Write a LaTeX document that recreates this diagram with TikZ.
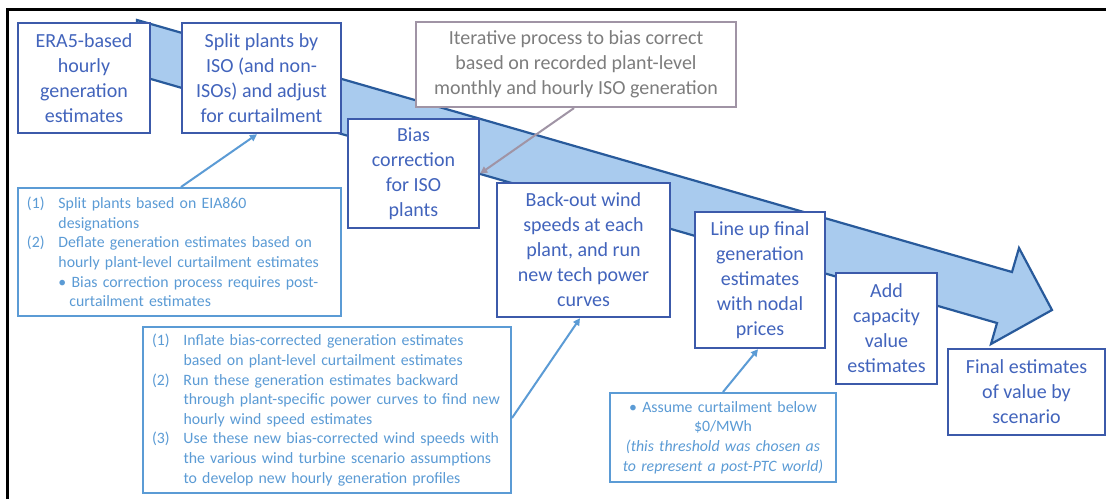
\documentclass[tikz,border=0pt]{standalone}
\usepackage{fontspec}
\setmainfont{Carlito}
\usetikzlibrary{arrows.meta}
\definecolor{mainborder}{RGB}{60,90,170}
\definecolor{maintext}{RGB}{66,100,188}
\definecolor{arrowfill}{RGB}{169,203,238}
\definecolor{arrowline}{RGB}{40,90,155}
\definecolor{callout}{RGB}{91,155,213}
\definecolor{grayline}{RGB}{160,148,165}
\definecolor{graytext}{RGB}{125,125,125}
\newcommand\calitem[1]{\makebox[31.5pt][l]{#1}}
\newcommand\calind{\hspace*{31.5pt}}
\begin{document}
\begin{tikzpicture}[x=1pt,y=-1pt,
  mainbox/.style={draw=mainborder, line width=2.5pt, fill=white, text=maintext, align=center,
    font=\fontsize{20}{25}\selectfont, inner sep=0pt},
  graybox/.style={draw=grayline, line width=2.2pt, fill=white, text=graytext, align=center,
    font=\fontsize{20}{25}\selectfont, inner sep=0pt},
  calbox/.style={draw=callout, line width=2pt, fill=white, text=callout,
    font=\fontsize{15.8}{19.6}\selectfont, inner xsep=9pt, inner ysep=0pt},
  conn/.style={draw=callout, line width=2pt, -{Triangle[length=7pt,width=7pt]}},
  grayconn/.style={draw=grayline, line width=2pt, -{Triangle[length=7pt,width=7pt]}}]
\useasboundingbox (0,0) rectangle (1106,499);
\fill[white] (0,0) rectangle (1106,499);
% frame
\draw[line width=3pt] (7.5,499) -- (7.5,9.5) -- (1106,9.5);
% big arrow
\draw[fill=arrowfill, draw=arrowline, line width=2.2pt, line join=miter]
  (137,20) -- (1012,272) -- (1019,248) -- (1052,310) -- (991,344) -- (997,323) -- (137,75) -- cycle;
% main boxes
\node[mainbox, minimum width=132pt, minimum height=110pt] (b1) at (84,78) {ERA5-based\\hourly\\generation\\estimates};
\node[mainbox, minimum width=159pt, minimum height=110pt] (b2) at (261.5,78) {Split plants by\\ISO (and non-\\ISOs) and adjust\\for curtailment};
\node[graybox, minimum width=320pt, minimum height=85pt] (iter) at (576,64.5) {Iterative process to bias correct\\based on recorded plant-level\\monthly and hourly ISO generation};
\node[mainbox, minimum width=131pt, minimum height=109pt] (bias) at (413.5,173.5) {Bias\\correction\\for ISO\\plants};
\node[mainbox, minimum width=173pt, minimum height=134pt] (back) at (583.5,250) {Back-out wind\\speeds at each\\plant, and run\\new tech power\\curves};
\node[mainbox, minimum width=130pt, minimum height=136pt] (lineup) at (760,280) {Line up final\\generation\\estimates\\with nodal\\prices};
\node[mainbox, minimum width=101pt, minimum height=111pt] (add) at (886.5,328.5) {Add\\capacity\\value\\estimates};
\node[mainbox, minimum width=157pt, minimum height=86pt] (final) at (1026.5,392) {Final estimates\\of value by\\scenario};
% callouts
\node[calbox, text width=305pt, minimum height=128pt, align=left] (c1) at (179.5,252) {%
\calitem{(1)}Split plants based on EIA860\\
\calind designations\\
\calitem{(2)}Deflate generation estimates based on\\
\calind hourly plant-level curtailment estimates\\
\calind\textbullet\ Bias correction process requires post-\\
\hspace*{42.5pt}curtailment estimates};
\node[calbox, text width=350pt, minimum height=166pt, align=left] (c2) at (327,410) {%
\calitem{(1)}Inflate bias-corrected generation estimates\\
\calind based on plant-level curtailment estimates\\
\calitem{(2)}Run these generation estimates backward\\
\calind through plant-specific power curves to find new\\
\calind hourly wind speed estimates\\
\calitem{(3)}Use these new bias-corrected wind speeds with\\
\calind the various wind turbine scenario assumptions\\
\calind to develop new hourly generation profiles};
\node[calbox, text width=208pt, minimum height=89pt, align=center] (c3) at (723,437.5) {%
\textbullet\ Assume curtailment below\\
\$0/MWh\\
\textit{(this threshold was chosen as}\\
\textit{to represent a post-PTC world)}};
% connectors
\draw[conn] ([xshift=164pt]c1.north west) -- ([xshift=-4.5pt]b2.south);
\draw[conn] ([yshift=-8pt]c2.east) -- ([xshift=-3.5pt]back.south);
\draw[conn] (c3.north) -- ([xshift=-2pt]lineup.south);
\draw[grayconn] ([xshift=-2pt]iter.south) -- (bias.east);
\end{tikzpicture}
\end{document}
